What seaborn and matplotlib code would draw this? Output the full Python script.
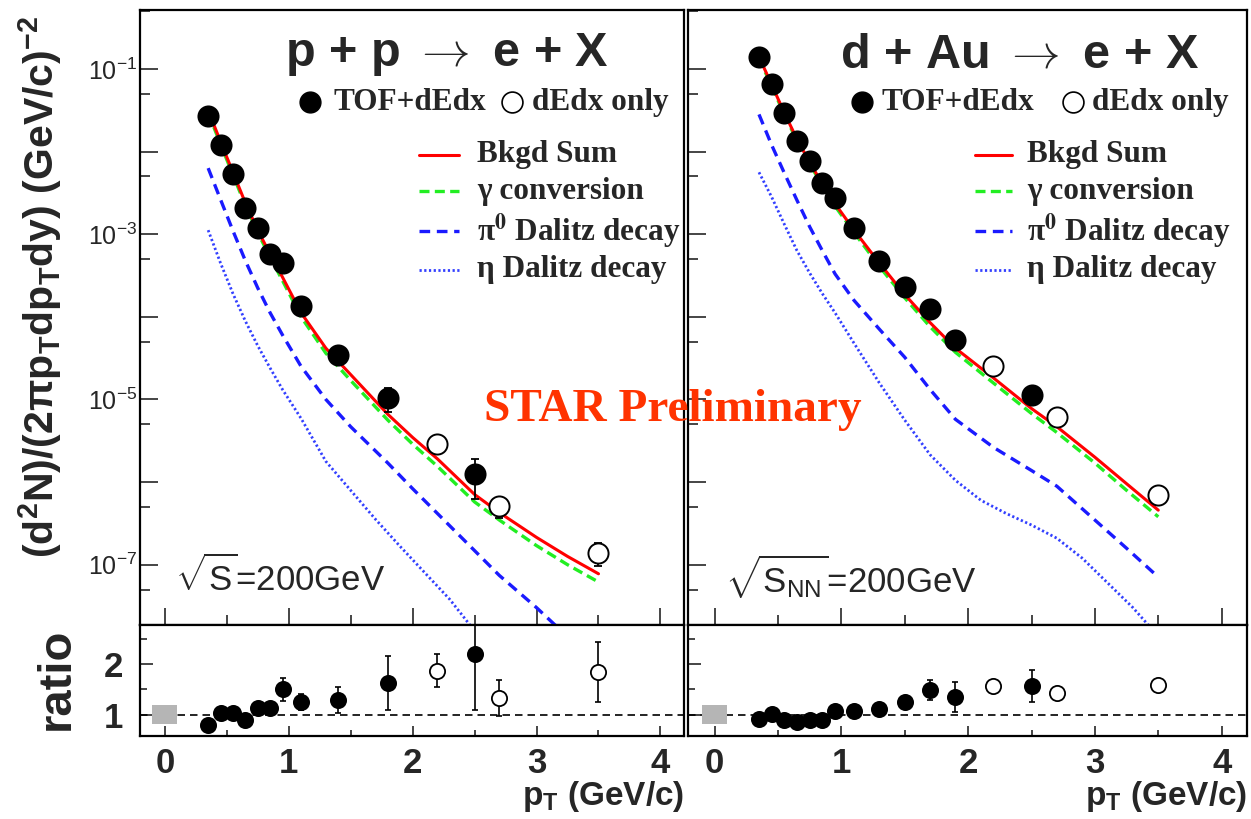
import numpy as np
import pandas as pd
import matplotlib
matplotlib.use("Agg")
import matplotlib.pyplot as plt
import seaborn as sns
from matplotlib.ticker import LogLocator, FixedLocator, FuncFormatter, MultipleLocator, NullFormatter

# ---------------- p + p -> e + X ----------------
pp_tof_pt = [0.35, 0.45, 0.55, 0.65, 0.75, 0.85, 0.95, 1.1, 1.4, 1.8, 2.5]
pp_tof_yield = [2.7e-2, 1.2e-2, 5.4e-3, 2.1e-3, 1.2e-3, 5.8e-4, 4.5e-4, 1.35e-4, 3.5e-5, 1.05e-5, 1.26e-6]
pp_tof_ratio = [0.80, 1.03, 1.03, 0.90, 1.14, 1.14, 1.50, 1.25, 1.29, 1.63, 2.19]
pp_tof_ratio_err = [0.04, 0.04, 0.04, 0.04, 0.05, 0.05, 0.22, 0.15, 0.25, 0.53, 1.10]
pp_dedx_pt = [2.2, 2.7, 3.5]
pp_dedx_yield = [2.9e-6, 5.1e-7, 1.4e-7]
pp_dedx_ratio = [1.87, 1.33, 1.85]
pp_dedx_ratio_err = [0.33, 0.36, 0.59]

pp_curve_pt = [0.35, 0.45, 0.55, 0.65, 0.75, 0.85, 0.95, 1.1, 1.3, 1.5, 1.8, 2.0, 2.2, 2.5, 2.7, 3.0, 3.25, 3.5]
pp_bkgd_sum = [3.16e-2, 1.32e-2, 5.62e-3, 2.40e-3, 1.12e-3, 5.75e-4, 3.02e-4, 1.12e-4, 4.17e-5, 2.00e-5,
               6.61e-6, 3.47e-6, 1.91e-6, 7.08e-7, 4.27e-7, 2.14e-7, 1.26e-7, 7.76e-8]
pp_gamma_conv = [2.95e-2, 1.23e-2, 5.25e-3, 2.24e-3, 1.05e-3, 5.25e-4, 2.75e-4, 1.00e-4, 3.63e-5, 1.70e-5,
                 5.62e-6, 2.88e-6, 1.55e-6, 5.75e-7, 3.47e-7, 1.70e-7, 1.00e-7, 6.17e-8]
pp_pi0_pt = [0.35, 0.45, 0.55, 0.65, 0.75, 0.85, 0.95, 1.1, 1.3, 1.5, 1.8, 2.0, 2.2, 2.5, 2.7, 3.0, 3.2]
pp_pi0_dalitz = [6.31e-3, 2.63e-3, 1.10e-3, 4.79e-4, 2.24e-4, 1.12e-4, 6.03e-5, 2.51e-5, 1.00e-5, 4.68e-6,
                 1.70e-6, 8.32e-7, 4.17e-7, 1.48e-7, 7.41e-8, 3.02e-8, 1.58e-8]
pp_eta_pt = [0.35, 0.45, 0.55, 0.65, 0.75, 0.85, 0.95, 1.1, 1.3, 1.5, 1.7, 1.9, 2.1, 2.3, 2.5]
pp_eta_dalitz = [1.12e-3, 4.47e-4, 1.91e-4, 8.91e-5, 4.47e-5, 2.40e-5, 1.32e-5, 5.89e-6, 1.78e-6, 7.94e-7,
                 3.55e-7, 1.66e-7, 7.94e-8, 3.80e-8, 1.58e-8]

# ---------------- d + Au -> e + X ----------------
dau_tof_pt = [0.35, 0.45, 0.55, 0.65, 0.75, 0.85, 0.95, 1.1, 1.3, 1.5, 1.7, 1.9, 2.5]
dau_tof_yield = [1.40e-1, 6.6e-2, 2.9e-2, 1.34e-2, 7.8e-3, 4.2e-3, 2.75e-3, 1.18e-3, 4.7e-4, 2.3e-4,
                 1.23e-4, 5.2e-5, 1.13e-5]
dau_tof_ratio = [0.92, 1.02, 0.89, 0.85, 0.89, 0.89, 1.07, 1.07, 1.12, 1.25, 1.49, 1.35, 1.57]
dau_tof_ratio_err = [0.03, 0.03, 0.03, 0.03, 0.03, 0.03, 0.04, 0.04, 0.05, 0.06, 0.20, 0.30, 0.32]
dau_dedx_pt = [2.2, 2.7, 3.5]
dau_dedx_yield = [2.55e-5, 6.2e-6, 6.9e-7]
dau_dedx_ratio = [1.57, 1.42, 1.59]
dau_dedx_ratio_err = [0.05, 0.05, 0.06]

dau_curve_pt = [0.35, 0.45, 0.55, 0.65, 0.75, 0.85, 0.95, 1.1, 1.3, 1.5, 1.7, 1.9, 2.2, 2.5, 2.7, 3.0, 3.25, 3.5]
dau_bkgd_sum = [1.41e-1, 6.46e-2, 2.95e-2, 1.41e-2, 7.41e-3, 4.07e-3, 2.34e-3, 1.12e-3, 4.47e-4, 1.86e-4,
                8.51e-5, 4.17e-5, 1.82e-5, 7.76e-6, 4.68e-6, 2.00e-6, 9.55e-7, 4.57e-7]
dau_gamma_conv = [1.35e-1, 6.17e-2, 2.82e-2, 1.35e-2, 7.08e-3, 3.89e-3, 2.19e-3, 1.05e-3, 4.07e-4, 1.70e-4,
                  7.59e-5, 3.72e-5, 1.58e-5, 6.76e-6, 3.98e-6, 1.70e-6, 7.94e-7, 3.80e-7]
dau_pi0_pt = dau_curve_pt
dau_pi0_dalitz = [2.82e-2, 1.20e-2, 5.50e-3, 2.57e-3, 1.23e-3, 6.31e-4, 3.31e-4, 1.58e-4, 7.08e-5, 3.24e-5,
                  1.32e-5, 5.75e-6, 2.63e-6, 1.38e-6, 8.91e-7, 3.47e-7, 1.58e-7, 7.08e-8]
dau_eta_pt = [0.35, 0.45, 0.55, 0.65, 0.75, 0.85, 0.95, 1.1, 1.3, 1.5, 1.7, 1.9, 2.1, 2.3, 2.5, 2.7, 2.9,
              3.1, 3.3, 3.45]
dau_eta_dalitz = [5.62e-3, 2.82e-3, 1.32e-3, 6.31e-4, 3.39e-4, 1.91e-4, 1.12e-4, 4.79e-5, 1.58e-5, 5.62e-6,
                  2.14e-6, 1.05e-6, 6.03e-7, 4.17e-7, 3.02e-7, 2.09e-7, 1.20e-7, 6.03e-8, 3.02e-8, 1.66e-8]

# normalisation uncertainty band drawn at pT = 0 in the ratio panels
norm_band_half = 0.19

curve_labels = ["Bkgd Sum", "γ conversion", r"π$^{\mathbf{0}}$ Dalitz decay", "η Dalitz decay"]
marker_labels = ["TOF+dEdx", "dEdx only"]

RED = "#ff0000"
GREEN = "#22ee22"
BLUE = "#1a1aff"
DOT_BLUE = "#3340ff"
STAR_RED = "#ff3300"

curve_styles = [
    dict(color=RED, lw=2.2, linestyle="-"),
    dict(color=GREEN, lw=2.4, linestyle=(0, (3.0, 1.6))),
    dict(color=BLUE, lw=2.4, linestyle=(0, (3.2, 2.0))),
    dict(color=DOT_BLUE, lw=2.0, linestyle=(0, (0.8, 0.9))),
]

sns.set_theme(style="ticks")
plt.rcParams.update({
    "font.family": ["Liberation Sans", "DejaVu Sans"],
    "mathtext.fontset": "custom",
    "mathtext.rm": "Liberation Sans",
    "mathtext.it": "Liberation Sans:italic",
    "mathtext.bf": "Liberation Sans:bold",
    "axes.linewidth": 1.6,
    "axes.edgecolor": "black",
    "axes.facecolor": "white",
    "figure.facecolor": "white",
})

W, H = 1251, 819
fig = plt.figure(figsize=(W / 100, H / 100), dpi=100)


def px_axes(x0, x1, y0, y1):
    return fig.add_axes([x0 / W, 1 - y1 / H, (x1 - x0) / W, (y1 - y0) / H])


panels = [
    dict(top=px_axes(140, 684, 10, 625), rat=px_axes(140, 684, 625, 736), xlim=(-0.2, 4.19),
         tof=(pp_tof_pt, pp_tof_yield, pp_tof_ratio, pp_tof_ratio_err),
         dedx=(pp_dedx_pt, pp_dedx_yield, pp_dedx_ratio, pp_dedx_ratio_err),
         curves=[(pp_curve_pt, pp_bkgd_sum), (pp_curve_pt, pp_gamma_conv),
                 (pp_pi0_pt, pp_pi0_dalitz), (pp_eta_pt, pp_eta_dalitz)],
         title=r"p + p $\rightarrow$ e + X", energy=r"$\sqrt{\mathrm{S}}$=200GeV",
         leg=dict(m1=0.313, t1=0.355, m2=0.684, t2=0.720, lx0=0.513, lx1=0.587, lt=0.620),
         title_x=0.564, energy_x=0.064),
    dict(top=px_axes(688, 1247, 10, 625), rat=px_axes(688, 1247, 625, 736), xlim=(-0.21, 4.2),
         tof=(dau_tof_pt, dau_tof_yield, dau_tof_ratio, dau_tof_ratio_err),
         dedx=(dau_dedx_pt, dau_dedx_yield, dau_dedx_ratio, dau_dedx_ratio_err),
         curves=[(dau_curve_pt, dau_bkgd_sum), (dau_curve_pt, dau_gamma_conv),
                 (dau_pi0_pt, dau_pi0_dalitz), (dau_eta_pt, dau_eta_dalitz)],
         title=r"d + Au $\rightarrow$ e + X", energy=r"$\sqrt{\mathrm{S}_{\mathrm{NN}}}$=200GeV",
         leg=dict(m1=0.311, t1=0.347, m2=0.689, t2=0.723, lx0=0.513, lx1=0.580, lt=0.606),
         title_x=0.594, energy_x=0.066),
]

serif = ["Liberation Serif", "DejaVu Serif"]
for p in panels:
    ax, axr = p["top"], p["rat"]
    ax.set_yscale("log")

    # background components and their sum (eta drawn first so the sum sits on top)
    for (cx, cy), st in reversed(list(zip(p["curves"], curve_styles))):
        sns.lineplot(x=cx, y=cy, ax=ax, estimator=None, sort=False, legend=False,
                     color=st["color"], lw=st["lw"], linestyle=st["linestyle"], zorder=3)

    # measured spectra with errors propagated from the ratio uncertainties
    for (pt, yld, r, rerr), filled in [(p["tof"], True), (p["dedx"], False)]:
        yerr = np.asarray(yld) * np.asarray(rerr) / np.asarray(r)
        ax.errorbar(pt, yld, yerr=yerr, fmt="none", ecolor="black", elinewidth=1.3,
                    capsize=3, capthick=1.3, zorder=4)
        sns.scatterplot(x=pt, y=yld, ax=ax, s=210, color="black",
                        facecolor="black" if filled else "white", edgecolor="black",
                        linewidth=1.4, zorder=5, legend=False)

        axr.errorbar(pt, r, yerr=rerr, fmt="none", ecolor="black", elinewidth=1.2,
                     capsize=2.5, capthick=1.2, zorder=4)
        sns.scatterplot(x=pt, y=r, ax=axr, s=120, color="black",
                        facecolor="black" if filled else "white", edgecolor="black",
                        linewidth=1.3, zorder=5, legend=False)

    axr.axhline(1.0, color="black", lw=1.2, linestyle=(0, (4.5, 3.0)), zorder=2)
    axr.bar([0.0], [2 * norm_band_half], bottom=[1 - norm_band_half], width=0.2,
            color="#b5b5b5", edgecolor="none", zorder=3)

    # axis ranges and ticks
    for a in (ax, axr):
        a.set_xlim(*p["xlim"])
        a.xaxis.set_major_locator(MultipleLocator(1))
        a.xaxis.set_minor_locator(MultipleLocator(0.5))
        a.set_xlabel("")
        a.set_ylabel("")
        for s in a.spines.values():
            s.set_visible(True)
            s.set_linewidth(1.6)
            s.set_color("black")
    ax.set_ylim(10 ** -7.73, 10 ** -0.286)
    ax.yaxis.set_major_locator(LogLocator(base=10, numticks=20))
    ax.yaxis.set_minor_locator(LogLocator(base=10, subs=[5.0], numticks=20))
    ax.yaxis.set_major_formatter(FuncFormatter(
        lambda v, pos: (r"$10^{%d}$" % int(round(np.log10(v)))) if int(round(np.log10(v))) % 2 == 1 else ""))
    ax.yaxis.set_minor_formatter(NullFormatter())
    ax.tick_params(axis="x", which="both", labelbottom=False)
    ax.tick_params(axis="x", which="major", direction="in", length=12, width=1.2, top=False)
    ax.tick_params(axis="x", which="minor", direction="in", length=7, width=1.2, top=False)
    ax.tick_params(axis="y", which="major", direction="in", length=13, width=1.2, right=False,
                   labelsize=18, pad=2)
    ax.tick_params(axis="y", which="minor", direction="in", length=7, width=1.2, right=False)

    axr.set_ylim(0.58, 2.77)
    axr.yaxis.set_major_locator(FixedLocator([1, 2]))
    axr.yaxis.set_minor_locator(FixedLocator([1.5, 2.5]))
    axr.tick_params(axis="x", which="major", direction="in", length=7, width=1.2, top=False,
                    labelsize=25, pad=8)
    axr.tick_params(axis="x", which="minor", direction="in", length=4, width=1.2, top=False)
    axr.tick_params(axis="y", which="major", direction="in", length=9, width=1.2, right=False,
                    labelsize=25, pad=12)
    axr.tick_params(axis="y", which="minor", direction="in", length=5, width=1.2, right=False)
    for lab in axr.get_xticklabels() + axr.get_yticklabels():
        lab.set_fontweight("bold")

    if p is panels[1]:
        axr.tick_params(axis="y", labelleft=False)
        ax.tick_params(axis="y", labelleft=False)

    # reaction title
    ax.text(p["title_x"], 0.927, p["title"], transform=ax.transAxes, ha="center", va="center",
            fontsize=35, fontweight="bold", family=["Liberation Sans", "DejaVu Sans"],
            math_fontfamily="cm")

    # marker key
    lg = p["leg"]
    ax.plot([lg["m1"]], [0.851], marker="o", ms=15, color="black", transform=ax.transAxes,
            clip_on=False, zorder=6)
    ax.plot([lg["m2"]], [0.851], marker="o", ms=15, mfc="none", mec="black", mew=1.2,
            transform=ax.transAxes, clip_on=False, zorder=6)
    ax.text(lg["t1"], 0.849, marker_labels[0], transform=ax.transAxes, ha="left", va="center",
            fontsize=22.5, fontweight="bold", family=serif)
    ax.text(lg["t2"], 0.849, marker_labels[1], transform=ax.transAxes, ha="left", va="center",
            fontsize=22.5, fontweight="bold", family=serif)

    # curve key
    for yk, lab, st in zip([0.765, 0.705, 0.640, 0.578], curve_labels, curve_styles):
        ax.plot([lg["lx0"], lg["lx1"]], [yk, yk], transform=ax.transAxes, color=st["color"],
                lw=st["lw"], linestyle=st["linestyle"], zorder=6)
        ax.text(lg["lt"], yk, lab, transform=ax.transAxes, ha="left", va="center",
                fontsize=22.5, fontweight="bold", family=serif, math_fontfamily="stix")

    # collision energy
    ax.text(p["energy_x"], 0.078, p["energy"], transform=ax.transAxes,
            ha="left", va="center", fontsize=25)

    # x axis title
    fig.text(axr.get_position().x1, 1 - 805 / H, r"p$_{\mathbf{T}}$ (GeV/c)", ha="right",
             va="baseline", fontsize=24, fontweight="bold")

fig.text(0.032, 1 - 287 / H,
         r"(d$^{\mathbf{2}}$N)/(2πp$_{\mathbf{T}}$dp$_{\mathbf{T}}$dy) (GeV/c)$^{\mathbf{-2}}$",
         rotation=90, ha="center", va="center", fontsize=29.5, fontweight="bold")
fig.text(57 / W, 1 - 679 / H, "ratio", rotation=90, ha="center", va="center", fontsize=34,
         fontweight="bold")
fig.text(673 / W, 1 - 410 / H, "STAR Preliminary", ha="center", va="center", fontsize=34,
         fontweight="bold", color=STAR_RED, family=serif, zorder=10)

fig.savefig("out.png", dpi=100)
